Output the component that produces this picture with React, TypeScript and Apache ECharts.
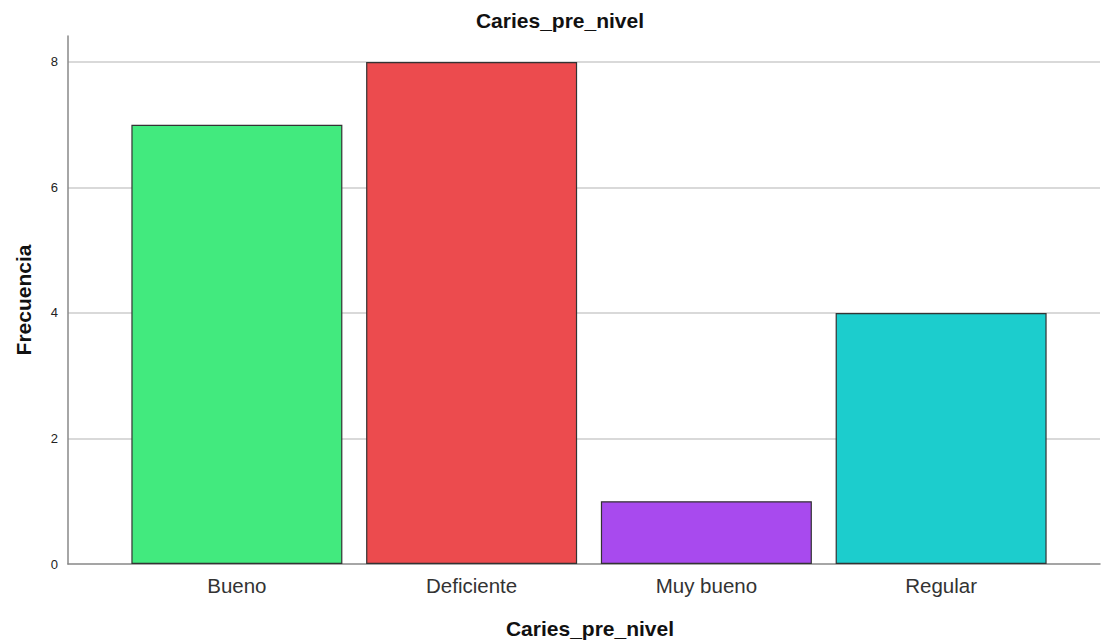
import React, { useEffect, useRef } from "react";
import * as echarts from "echarts";

const categories = ["Bueno", "Deficiente", "Muy bueno", "Regular"];
const values = [7, 8, 1, 4];
const barColors = ["#42EA7E", "#EC4B4E", "#A84AEE", "#1CCDCD"];
const yTicks = [0, 2, 4, 6, 8];
const titleText = "Caries_pre_nivel";
const xName = "Caries_pre_nivel";
const yName = "Frecuencia";

export default function App() {
  const ref = useRef<HTMLDivElement>(null);
  useEffect(() => {
    if (!ref.current) return;
    const chart = echarts.init(ref.current, undefined, { renderer: "svg" });
    const font = "'Liberation Sans', Arial, sans-serif";
    const yMax = 8.414;
    chart.setOption({
      animation: false,
      backgroundColor: "#ffffff",
      textStyle: { fontFamily: font },
      title: {
        text: titleText,
        left: 555,
        textAlign: "center",
        top: 5,
        textStyle: { fontFamily: font, fontSize: 21, fontWeight: "bold", color: "#111" },
      },
      grid: [
        { left: 68, right: 2, top: 36, bottom: 78 },
        { left: 119.5, right: 43.5, top: 36, bottom: 78 },
      ],
      xAxis: [
        {
          gridIndex: 0,
          type: "value",
          min: 0,
          max: 1,
          axisLine: { show: true, lineStyle: { color: "#888", width: 1.5 } },
          axisTick: { show: false },
          axisLabel: { show: false },
          splitLine: { show: false },
        },
        {
          gridIndex: 1,
          type: "category",
          data: categories,
          axisLine: { show: false },
          axisTick: { show: false },
          axisLabel: { color: "#333", fontSize: 20.5, fontFamily: font, margin: 11 },
        },
      ],
      yAxis: [
        {
          gridIndex: 0,
          type: "value",
          min: 0,
          max: yMax,
          interval: 2,
          axisLine: { show: true, lineStyle: { color: "#888", width: 1.5 } },
          axisTick: { show: false },
          axisLabel: {
            color: "#222",
            fontSize: 13,
            fontFamily: font,
            margin: 10,
            showMaxLabel: false,
            formatter: (v: number) => (yTicks.includes(v) ? String(v) : ""),
          },
          splitLine: { show: true, showMinLine: false, showMaxLine: false, lineStyle: { color: "#cccccc", width: 1.5 } },
        },
        {
          gridIndex: 1,
          type: "value",
          min: 0,
          max: yMax,
          interval: 2,
          show: false,
          splitLine: { show: false },
        },
      ],
      series: [
        {
          type: "bar",
          xAxisIndex: 1,
          yAxisIndex: 1,
          barWidth: 211,
          data: values.map((v, i) => ({
            value: v,
            itemStyle: { color: barColors[i], borderColor: "#333", borderWidth: 1.2 },
          })),
        },
      ],
      graphic: [
        {
          type: "text",
          x: 590,
          y: 628,
          style: {
            text: xName,
            fontFamily: font,
            fontSize: 21,
            fontWeight: "bold",
            fill: "#111",
            textAlign: "center",
            textVerticalAlign: "middle",
          },
        },
        {
          type: "text",
          x: 23,
          y: 300,
          rotation: Math.PI / 2,
          style: {
            text: yName,
            fontFamily: font,
            fontSize: 21,
            fontWeight: "bold",
            fill: "#111",
            textAlign: "center",
            textVerticalAlign: "middle",
          },
        },
      ],
    });
    return () => chart.dispose();
  }, []);
  return <div ref={ref} style={{ width: 1102, height: 642, position: "absolute", left: 0, top: 0 }} />;
}
